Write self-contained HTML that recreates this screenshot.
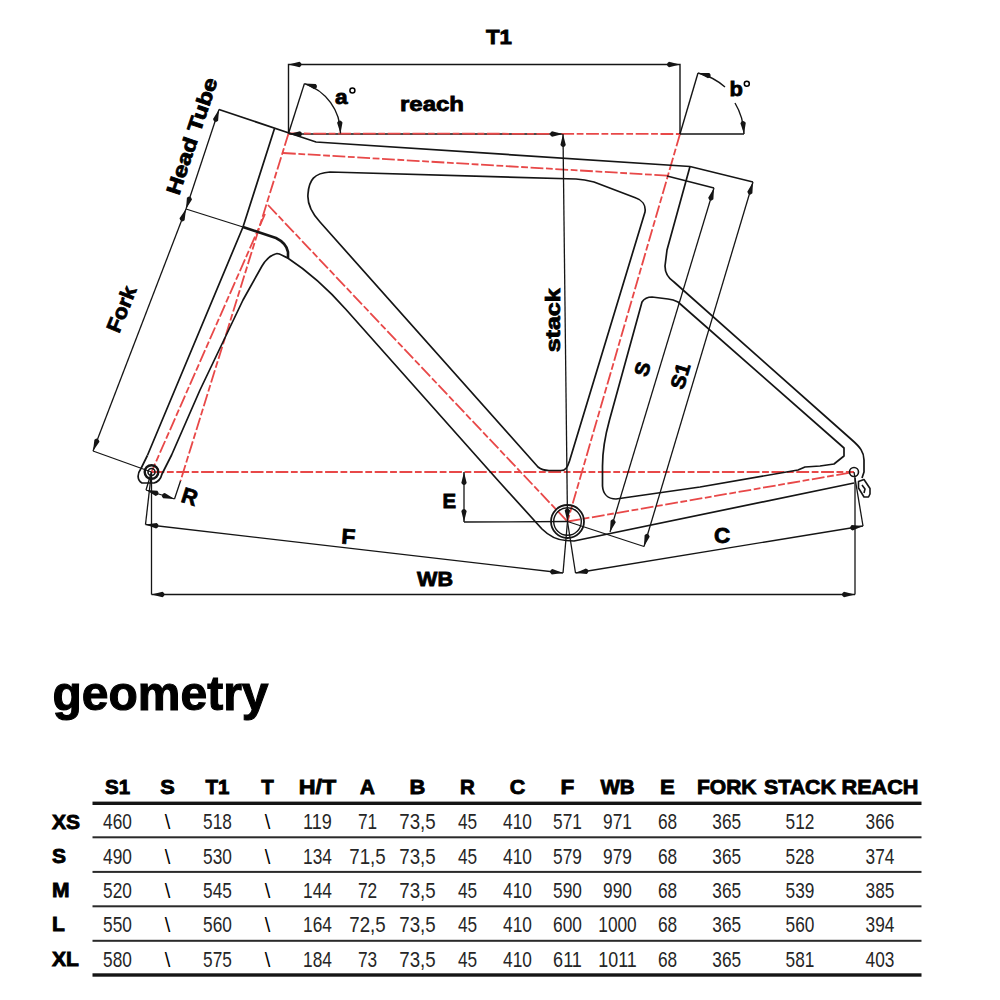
<!DOCTYPE html>
<html><head><meta charset="utf-8"><style>
html,body{margin:0;padding:0;background:#fff;}
body{width:1000px;height:1000px;overflow:hidden;position:relative;}
svg{position:absolute;left:0;top:0;font-family:"Liberation Sans",sans-serif;}
</style></head><body>
<svg width="1000" height="1000" viewBox="0 0 1000 1000">
<g stroke-linecap="butt">
<path d="M289,134 L563,134" stroke="#151515" stroke-width="1.6"/>
<path d="M151.5,472.0 L854.0,472.0" fill="none" stroke="#e84848" stroke-width="1.8" stroke-dasharray="12.8 2.6 6.8 2.6"/>
<path d="M288.5,133.5 L680.0,134.0" fill="none" stroke="#e84848" stroke-width="1.8" stroke-dasharray="12.8 2.6 6.8 2.6"/>
<path d="M288.5,133.5 L180.5,481.0" fill="none" stroke="#e84848" stroke-width="1.8" stroke-dasharray="12.8 2.6 6.8 2.6"/>
<path d="M265.0,214.0 L151.5,472.0" fill="none" stroke="#e84848" stroke-width="1.8" stroke-dasharray="12.8 2.6 6.8 2.6"/>
<path d="M268.0,205.0 L567.5,521.5" fill="none" stroke="#e84848" stroke-width="1.8" stroke-dasharray="12.8 2.6 6.8 2.6"/>
<path d="M283.0,153.0 L667.0,175.6" fill="none" stroke="#e84848" stroke-width="1.8" stroke-dasharray="12.8 2.6 6.8 2.6"/>
<path d="M680.0,134.0 L567.5,521.5" fill="none" stroke="#e84848" stroke-width="1.8" stroke-dasharray="12.8 2.6 6.8 2.6"/>
<path d="M567.5,521.5 L854.0,472.0" fill="none" stroke="#e84848" stroke-width="1.8" stroke-dasharray="12.8 2.6 6.8 2.6"/>
<path d="M274.5,128.5 L243.0,227.0 L147.4,455.5" fill="none" stroke="#151515" stroke-width="1.7" />
<path d="M147.4,455.5 L141,468.5 C137,474 137,480 142,483 L154,483 C158,482 161,478 162,474 L171.6,455 L200,390 L243,300 L262,266 C265,261 270,255 277,253.5 C280,253.5 283,256 288,258" fill="none" stroke="#151515" stroke-width="1.7" stroke-linejoin="round" />
<path d="M243,227 L258,232 L276,238 C282,241 287,246 288,252 L288,258" fill="none" stroke="#151515" stroke-width="2.6" stroke-linejoin="round" />
<path d="M219.0,109.5 L289.0,133.0 L316.0,142.0 L690.0,166.5" fill="none" stroke="#151515" stroke-width="1.7" />
<path d="M287,257.5 C306,270 328,289 346,309.5 L497.6,480 L542,529 C549,536 556,540 566,540.5 L574,541 L854,483" fill="none" stroke="#151515" stroke-width="1.7" stroke-linejoin="round" />
<path d="M330,172 L576,179 C583,179.5 588,180.5 594,182 L636,198 C642,200 646,205 645,212 L569.5,461 C567.5,467 566,470.5 561,470.5 L549,470.5 C544,470.5 541,469.5 538,467 L320,222 C311,212 307,204 308,194 C309,180 314,173 330,172 Z" fill="none" stroke="#151515" stroke-width="1.7" stroke-linejoin="round" />
<path d="M690,166.5 L667,250 L665,266 C665,273 668,278 674,282 L852,440 C860,447 864,452 864,460 L864,472 L862,478" fill="none" stroke="#151515" stroke-width="1.7" stroke-linejoin="round" />
<path d="M652,297 L668,299 C672,299.5 675,300.5 678,302 L844,448 L844,456 L834,464 L820,466 L805,467 L798,470 L700,487 L616,499 C608,499 603,494 602.5,486 L602.5,466 C602.5,452 604.5,438 609.5,420 L642,302 C644,299 647,297 652,297 Z" fill="none" stroke="#151515" stroke-width="1.7" stroke-linejoin="round" />
<circle cx="854" cy="472" r="4.5" fill="none" stroke="#151515" stroke-width="1.6"/>
<path d="M858.5,481.5 L864,479.5 L867,484 L870,488.5 L870,494 L868.5,497 L864,497 L861,492 L858.5,488 Z M862,485 L865,489 L864,493" fill="none" stroke="#151515" stroke-width="1.6" stroke-linejoin="round" />
<circle cx="151.5" cy="472" r="6.8" fill="none" stroke="#151515" stroke-width="2.4"/>
<circle cx="151.5" cy="472" r="3.5" fill="none" stroke="#151515" stroke-width="1.6"/>
<circle cx="567.5" cy="521.5" r="16.5" fill="none" stroke="#151515" stroke-width="1.8"/>
<circle cx="567.5" cy="521.5" r="13.8" fill="none" stroke="#151515" stroke-width="1.4"/>
<path d="M288.5,133.5 L288.5,64.5 L680.0,64.5 L680.0,134.0" fill="none" stroke="#151515" stroke-width="1.4" />
<path d="M288.5,64.5 L299.5,67.2 Q302.5,65.0 301.0,64.0 Q302.5,64.0 299.5,61.8 Z" fill="#151515"/>
<path d="M680.0,64.5 L669.0,61.8 Q666.0,64.0 667.5,65.0 Q666.0,65.0 669.0,67.2 Z" fill="#151515"/>
<path d="M289.0,134.0 L300.0,136.7 Q303.0,134.5 301.5,133.5 Q303.0,133.5 300.0,131.3 Z" fill="#151515"/>
<path d="M563.0,134.0 L552.0,131.3 Q549.0,133.5 550.5,134.5 Q549.0,134.5 552.0,136.7 Z" fill="#151515"/>
<path d="M563.0,134.0 L567.5,521.5" fill="none" stroke="#151515" stroke-width="1.3" />
<path d="M563.0,134.0 L560.4,145.0 Q562.6,148.0 563.7,146.5 Q563.7,148.0 565.8,145.0 Z" fill="#151515"/>
<path d="M567.5,521.5 L570.1,510.5 Q567.9,507.5 566.8,509.0 Q566.8,507.5 564.7,510.5 Z" fill="#151515"/>
<path d="M288.5,133.5 L304.4,83.6" fill="none" stroke="#151515" stroke-width="1.4" />
<path d="M304.4,83.6 A52,52 0 0 1 340.5,133.5" fill="none" stroke="#151515" stroke-width="1.4" stroke-linejoin="round" />
<path d="M304.4,83.6 L314.2,89.3 Q317.7,88.1 316.5,86.6 Q318.0,87.0 315.7,84.1 Z" fill="#151515"/>
<path d="M340.5,133.5 L342.5,122.4 Q340.2,119.5 339.2,121.1 Q339.1,119.6 337.1,122.7 Z" fill="#151515"/>
<path d="M680.0,134.0 L698.0,73.0" fill="none" stroke="#151515" stroke-width="1.4" />
<path d="M680.0,134.0 L744.0,134.0" fill="none" stroke="#151515" stroke-width="1.4" />
<path d="M698,73 A64,64 0 0 1 725,87" fill="none" stroke="#151515" stroke-width="1.4" stroke-linejoin="round" />
<path d="M735,103 A64,64 0 0 1 744,134" fill="none" stroke="#151515" stroke-width="1.4" stroke-linejoin="round" />
<path d="M698.0,73.0 L708.0,78.3 Q711.5,76.9 710.3,75.5 Q711.7,75.9 709.3,73.0 Z" fill="#151515"/>
<path d="M744.0,134.0 L745.8,122.8 Q743.4,120.0 742.4,121.6 Q742.3,120.1 740.4,123.3 Z" fill="#151515"/>
<path d="M219.0,109.5 L186.0,209.0" fill="none" stroke="#151515" stroke-width="1.3" />
<path d="M219.0,109.5 L213.0,119.1 Q214.1,122.6 215.6,121.5 Q215.1,123.0 218.1,120.8 Z" fill="#151515"/>
<path d="M186.0,209.0 L192.0,199.4 Q190.9,195.9 189.4,197.0 Q189.9,195.5 186.9,197.7 Z" fill="#151515"/>
<path d="M186.0,209.0 L93.0,451.0" fill="none" stroke="#151515" stroke-width="1.3" />
<path d="M186.0,209.0 L179.5,218.3 Q180.5,221.9 182.0,220.9 Q181.5,222.3 184.6,220.2 Z" fill="#151515"/>
<path d="M93.0,451.0 L99.5,441.7 Q98.5,438.1 97.0,439.1 Q97.5,437.7 94.4,439.8 Z" fill="#151515"/>
<path d="M93.0,451.0 L151.5,472.0" fill="none" stroke="#151515" stroke-width="1.3" />
<path d="M186.0,209.0 L243.0,227.0" fill="none" stroke="#151515" stroke-width="1.3" />
<path d="M180.5,481.0 L174.5,499.0" fill="none" stroke="#151515" stroke-width="1.3" />
<path d="M151.5,472.0 L146.0,490.0" fill="none" stroke="#151515" stroke-width="1.3" />
<path d="M146.0,490.0 L174.5,499.0" fill="none" stroke="#151515" stroke-width="1.3" />
<path d="M146.0,490.0 L155.7,495.9 Q159.2,494.7 158.1,493.2 Q159.5,493.7 157.3,490.7 Z" fill="#151515"/>
<path d="M174.5,499.0 L164.8,493.1 Q161.3,494.3 162.4,495.8 Q161.0,495.3 163.2,498.3 Z" fill="#151515"/>
<path d="M464.0,472.0 L464.0,522.0" fill="none" stroke="#151515" stroke-width="1.3" />
<path d="M464.0,472.0 L461.3,483.0 Q463.5,486.0 464.5,484.5 Q464.5,486.0 466.7,483.0 Z" fill="#151515"/>
<path d="M464.0,522.0 L466.7,511.0 Q464.5,508.0 463.5,509.5 Q463.5,508.0 461.3,511.0 Z" fill="#151515"/>
<path d="M464.0,522.0 L567.5,521.5" fill="none" stroke="#151515" stroke-width="1.3" />
<path d="M151.5,472.0 L145.5,524.5" fill="none" stroke="#151515" stroke-width="1.3" />
<path d="M567.5,521.5 L563.0,573.0" fill="none" stroke="#151515" stroke-width="1.3" />
<path d="M145.5,524.5 L563.0,573.0" fill="none" stroke="#151515" stroke-width="1.3" />
<path d="M145.5,524.5 L156.1,528.5 Q159.3,526.7 158.0,525.4 Q159.5,525.6 156.7,523.1 Z" fill="#151515"/>
<path d="M563.0,573.0 L552.4,569.0 Q549.2,570.8 550.5,572.1 Q549.0,571.9 551.8,574.4 Z" fill="#151515"/>
<path d="M567.5,521.5 L575.5,573.0" fill="none" stroke="#151515" stroke-width="1.3" />
<path d="M854.0,472.0 L863.0,526.0" fill="none" stroke="#151515" stroke-width="1.3" />
<path d="M575.5,573.0 L863.0,526.0" fill="none" stroke="#151515" stroke-width="1.3" />
<path d="M575.5,573.0 L586.8,573.9 Q589.4,571.3 587.7,570.5 Q589.2,570.2 585.9,568.6 Z" fill="#151515"/>
<path d="M863.0,526.0 L851.7,525.1 Q849.1,527.7 850.8,528.5 Q849.3,528.8 852.6,530.4 Z" fill="#151515"/>
<path d="M151.5,472.0 L151.5,594.5" fill="none" stroke="#151515" stroke-width="1.3" />
<path d="M855.0,478.0 L855.0,594.5" fill="none" stroke="#151515" stroke-width="1.3" />
<path d="M151.5,594.5 L855.0,594.5" fill="none" stroke="#151515" stroke-width="1.3" />
<path d="M151.5,594.5 L162.5,597.2 Q165.5,595.0 164.0,594.0 Q165.5,594.0 162.5,591.8 Z" fill="#151515"/>
<path d="M855.0,594.5 L844.0,591.8 Q841.0,594.0 842.5,595.0 Q841.0,595.0 844.0,597.2 Z" fill="#151515"/>
<path d="M667.0,176.0 L714.0,188.0" fill="none" stroke="#151515" stroke-width="1.3" />
<path d="M690.0,166.5 L753.0,182.0" fill="none" stroke="#151515" stroke-width="1.3" />
<path d="M714.0,188.0 L610.0,532.0" fill="none" stroke="#151515" stroke-width="1.3" />
<path d="M714.0,188.0 L708.2,197.7 Q709.4,201.2 710.9,200.1 Q710.5,201.6 713.4,199.3 Z" fill="#151515"/>
<path d="M610.0,532.0 L615.8,522.3 Q614.6,518.8 613.1,519.9 Q613.5,518.4 610.6,520.7 Z" fill="#151515"/>
<path d="M753.0,182.0 L644.0,546.5" fill="none" stroke="#151515" stroke-width="1.3" />
<path d="M753.0,182.0 L747.3,191.8 Q748.5,195.3 749.9,194.1 Q749.5,195.6 752.4,193.3 Z" fill="#151515"/>
<path d="M644.0,546.5 L649.7,536.7 Q648.5,533.2 647.1,534.4 Q647.5,532.9 644.6,535.2 Z" fill="#151515"/>
<path d="M567.5,521.5 L644.0,546.5" fill="none" stroke="#151515" stroke-width="1.3" />
<text x="486" y="44.4" font-size="20" font-weight="bold" text-anchor="start" textLength="26" lengthAdjust="spacingAndGlyphs" fill="#000" stroke="#000" stroke-width="0.8" >T1</text>
<text x="400" y="111" font-size="20" font-weight="bold" text-anchor="start" textLength="64" lengthAdjust="spacingAndGlyphs" fill="#000" stroke="#000" stroke-width="0.8" >reach</text>
<text x="335" y="103.5" font-size="20" font-weight="bold" text-anchor="start" textLength="12.6" lengthAdjust="spacingAndGlyphs" fill="#000" stroke="#000" stroke-width="0.8" >a</text>
<circle cx="352.4" cy="90.6" r="2.5" fill="none" stroke="#000" stroke-width="1.5"/>
<text x="729.4" y="95.6" font-size="20.5" font-weight="bold" text-anchor="start" textLength="13.4" lengthAdjust="spacingAndGlyphs" fill="#000" stroke="#000" stroke-width="0.8" >b</text>
<circle cx="746.8" cy="83.8" r="2.5" fill="none" stroke="#000" stroke-width="1.5"/>
<text x="442.4" y="508" font-size="20" font-weight="bold" text-anchor="start" textLength="13.6" lengthAdjust="spacingAndGlyphs" fill="#000" stroke="#000" stroke-width="0.8" >E</text>
<text x="341" y="543.6" font-size="21.5" font-weight="bold" text-anchor="start" textLength="13.8" lengthAdjust="spacingAndGlyphs" transform="rotate(4 341 543.6)" fill="#000" stroke="#000" stroke-width="0.8" >F</text>
<text x="417" y="586" font-size="20" font-weight="bold" text-anchor="start" textLength="36" lengthAdjust="spacingAndGlyphs" fill="#000" stroke="#000" stroke-width="0.8" >WB</text>
<text x="714" y="543" font-size="22" font-weight="bold" text-anchor="start" textLength="16.2" lengthAdjust="spacingAndGlyphs" fill="#000" stroke="#000" stroke-width="0.8" >C</text>
<text x="180" y="501.6" font-size="22" font-weight="bold" text-anchor="start" textLength="15.6" lengthAdjust="spacingAndGlyphs" transform="rotate(17.5 180 501.6)" fill="#000" stroke="#000" stroke-width="0.8" >R</text>
<text x="559.6" y="352.3" font-size="20" font-weight="bold" text-anchor="start" textLength="64" lengthAdjust="spacingAndGlyphs" transform="rotate(-90 559.6 352.3)" fill="#000" stroke="#000" stroke-width="0.8" >stack</text>
<text x="649" y="371" font-size="20" font-weight="bold" text-anchor="middle" textLength="14" lengthAdjust="spacingAndGlyphs" transform="rotate(-73.3 649 371)" fill="#000" stroke="#000" stroke-width="0.8" >S</text>
<text x="687" y="378" font-size="20" font-weight="bold" text-anchor="middle" textLength="26" lengthAdjust="spacingAndGlyphs" transform="rotate(-73.3 687 378)" fill="#000" stroke="#000" stroke-width="0.8" >S1</text>
<text x="179" y="196" font-size="20" font-weight="bold" text-anchor="start" textLength="122" lengthAdjust="spacingAndGlyphs" transform="rotate(-71.4 179 196)" fill="#000" stroke="#000" stroke-width="0.8" >Head Tube</text>
<text x="119" y="334" font-size="20.5" font-weight="bold" text-anchor="start" textLength="48" lengthAdjust="spacingAndGlyphs" transform="rotate(-68 119 334)" fill="#000" stroke="#000" stroke-width="0.8" >Fork</text>
</g>
<text x="52.5" y="710" font-size="49" font-weight="bold" textLength="216" lengthAdjust="spacingAndGlyphs" stroke="#000" stroke-width="1.1">geometry</text>
<text x="117.5" y="793.8" font-size="20.5" font-weight="bold" text-anchor="middle" stroke="#000" stroke-width="0.85">S1</text>
<text x="167.5" y="793.8" font-size="20.5" font-weight="bold" text-anchor="middle" textLength="14.5" lengthAdjust="spacingAndGlyphs" stroke="#000" stroke-width="0.85">S</text>
<text x="217.5" y="793.8" font-size="20.5" font-weight="bold" text-anchor="middle" stroke="#000" stroke-width="0.85">T1</text>
<text x="267.5" y="793.8" font-size="20.5" font-weight="bold" text-anchor="middle" stroke="#000" stroke-width="0.85">T</text>
<text x="317.5" y="793.8" font-size="20.5" font-weight="bold" text-anchor="middle" textLength="37.5" lengthAdjust="spacingAndGlyphs" stroke="#000" stroke-width="0.85">H/T</text>
<text x="367.5" y="793.8" font-size="20.5" font-weight="bold" text-anchor="middle" stroke="#000" stroke-width="0.85">A</text>
<text x="417.5" y="793.8" font-size="20.5" font-weight="bold" text-anchor="middle" textLength="15.8" lengthAdjust="spacingAndGlyphs" stroke="#000" stroke-width="0.85">B</text>
<text x="467.5" y="793.8" font-size="20.5" font-weight="bold" text-anchor="middle" stroke="#000" stroke-width="0.85">R</text>
<text x="517.5" y="793.8" font-size="20.5" font-weight="bold" text-anchor="middle" textLength="15.5" lengthAdjust="spacingAndGlyphs" stroke="#000" stroke-width="0.85">C</text>
<text x="567.5" y="793.8" font-size="20.5" font-weight="bold" text-anchor="middle" textLength="13.8" lengthAdjust="spacingAndGlyphs" stroke="#000" stroke-width="0.85">F</text>
<text x="617.5" y="793.8" font-size="20.5" font-weight="bold" text-anchor="middle" stroke="#000" stroke-width="0.85">WB</text>
<text x="667.5" y="793.8" font-size="20.5" font-weight="bold" text-anchor="middle" textLength="14.8" lengthAdjust="spacingAndGlyphs" stroke="#000" stroke-width="0.85">E</text>
<text x="726.75" y="793.8" font-size="20.5" font-weight="bold" text-anchor="middle" textLength="59.6" lengthAdjust="spacingAndGlyphs" stroke="#000" stroke-width="0.85">FORK</text>
<text x="800.0" y="793.8" font-size="20.5" font-weight="bold" text-anchor="middle" textLength="71.8" lengthAdjust="spacingAndGlyphs" stroke="#000" stroke-width="0.85">STACK</text>
<text x="880.0" y="793.8" font-size="20.5" font-weight="bold" text-anchor="middle" textLength="77" lengthAdjust="spacingAndGlyphs" stroke="#000" stroke-width="0.85">REACH</text>
<text x="52" y="828.5" font-size="21" font-weight="bold" text-anchor="start" stroke="#000" stroke-width="0.9">XS</text>
<text x="117.5" y="829.3" font-size="21.4" font-weight="normal" text-anchor="middle" textLength="28.8" lengthAdjust="spacingAndGlyphs" fill="#262626">460</text>
<text x="167.5" y="829.3" font-size="20" font-weight="normal" text-anchor="middle" transform="scale(1,1)">\</text>
<text x="217.5" y="829.3" font-size="21.4" font-weight="normal" text-anchor="middle" textLength="28.8" lengthAdjust="spacingAndGlyphs" fill="#262626">518</text>
<text x="267.5" y="829.3" font-size="20" font-weight="normal" text-anchor="middle" transform="scale(1,1)">\</text>
<text x="317.5" y="829.3" font-size="21.4" font-weight="normal" text-anchor="middle" textLength="28.8" lengthAdjust="spacingAndGlyphs" fill="#262626">119</text>
<text x="367.5" y="829.3" font-size="21.4" font-weight="normal" text-anchor="middle" textLength="19.2" lengthAdjust="spacingAndGlyphs" fill="#262626">71</text>
<text x="417.5" y="829.3" font-size="21.4" font-weight="normal" text-anchor="middle" textLength="36.4" lengthAdjust="spacingAndGlyphs" fill="#262626">73,5</text>
<text x="467.5" y="829.3" font-size="21.4" font-weight="normal" text-anchor="middle" textLength="19.2" lengthAdjust="spacingAndGlyphs" fill="#262626">45</text>
<text x="517.5" y="829.3" font-size="21.4" font-weight="normal" text-anchor="middle" textLength="28.8" lengthAdjust="spacingAndGlyphs" fill="#262626">410</text>
<text x="567.5" y="829.3" font-size="21.4" font-weight="normal" text-anchor="middle" textLength="28.8" lengthAdjust="spacingAndGlyphs" fill="#262626">571</text>
<text x="617.5" y="829.3" font-size="21.4" font-weight="normal" text-anchor="middle" textLength="28.8" lengthAdjust="spacingAndGlyphs" fill="#262626">971</text>
<text x="667.5" y="829.3" font-size="21.4" font-weight="normal" text-anchor="middle" textLength="19.2" lengthAdjust="spacingAndGlyphs" fill="#262626">68</text>
<text x="726.75" y="829.3" font-size="21.4" font-weight="normal" text-anchor="middle" textLength="28.8" lengthAdjust="spacingAndGlyphs" fill="#262626">365</text>
<text x="800.0" y="829.3" font-size="21.4" font-weight="normal" text-anchor="middle" textLength="28.8" lengthAdjust="spacingAndGlyphs" fill="#262626">512</text>
<text x="880.0" y="829.3" font-size="21.4" font-weight="normal" text-anchor="middle" textLength="28.8" lengthAdjust="spacingAndGlyphs" fill="#262626">366</text>
<text x="52" y="862.8000000000001" font-size="21" font-weight="bold" text-anchor="start" stroke="#000" stroke-width="0.9">S</text>
<text x="117.5" y="863.6" font-size="21.4" font-weight="normal" text-anchor="middle" textLength="28.8" lengthAdjust="spacingAndGlyphs" fill="#262626">490</text>
<text x="167.5" y="863.6" font-size="20" font-weight="normal" text-anchor="middle" transform="scale(1,1)">\</text>
<text x="217.5" y="863.6" font-size="21.4" font-weight="normal" text-anchor="middle" textLength="28.8" lengthAdjust="spacingAndGlyphs" fill="#262626">530</text>
<text x="267.5" y="863.6" font-size="20" font-weight="normal" text-anchor="middle" transform="scale(1,1)">\</text>
<text x="317.5" y="863.6" font-size="21.4" font-weight="normal" text-anchor="middle" textLength="28.8" lengthAdjust="spacingAndGlyphs" fill="#262626">134</text>
<text x="367.5" y="863.6" font-size="21.4" font-weight="normal" text-anchor="middle" textLength="36.4" lengthAdjust="spacingAndGlyphs" fill="#262626">71,5</text>
<text x="417.5" y="863.6" font-size="21.4" font-weight="normal" text-anchor="middle" textLength="36.4" lengthAdjust="spacingAndGlyphs" fill="#262626">73,5</text>
<text x="467.5" y="863.6" font-size="21.4" font-weight="normal" text-anchor="middle" textLength="19.2" lengthAdjust="spacingAndGlyphs" fill="#262626">45</text>
<text x="517.5" y="863.6" font-size="21.4" font-weight="normal" text-anchor="middle" textLength="28.8" lengthAdjust="spacingAndGlyphs" fill="#262626">410</text>
<text x="567.5" y="863.6" font-size="21.4" font-weight="normal" text-anchor="middle" textLength="28.8" lengthAdjust="spacingAndGlyphs" fill="#262626">579</text>
<text x="617.5" y="863.6" font-size="21.4" font-weight="normal" text-anchor="middle" textLength="28.8" lengthAdjust="spacingAndGlyphs" fill="#262626">979</text>
<text x="667.5" y="863.6" font-size="21.4" font-weight="normal" text-anchor="middle" textLength="19.2" lengthAdjust="spacingAndGlyphs" fill="#262626">68</text>
<text x="726.75" y="863.6" font-size="21.4" font-weight="normal" text-anchor="middle" textLength="28.8" lengthAdjust="spacingAndGlyphs" fill="#262626">365</text>
<text x="800.0" y="863.6" font-size="21.4" font-weight="normal" text-anchor="middle" textLength="28.8" lengthAdjust="spacingAndGlyphs" fill="#262626">528</text>
<text x="880.0" y="863.6" font-size="21.4" font-weight="normal" text-anchor="middle" textLength="28.8" lengthAdjust="spacingAndGlyphs" fill="#262626">374</text>
<text x="52" y="897.1" font-size="21" font-weight="bold" text-anchor="start" stroke="#000" stroke-width="0.9">M</text>
<text x="117.5" y="897.9" font-size="21.4" font-weight="normal" text-anchor="middle" textLength="28.8" lengthAdjust="spacingAndGlyphs" fill="#262626">520</text>
<text x="167.5" y="897.9" font-size="20" font-weight="normal" text-anchor="middle" transform="scale(1,1)">\</text>
<text x="217.5" y="897.9" font-size="21.4" font-weight="normal" text-anchor="middle" textLength="28.8" lengthAdjust="spacingAndGlyphs" fill="#262626">545</text>
<text x="267.5" y="897.9" font-size="20" font-weight="normal" text-anchor="middle" transform="scale(1,1)">\</text>
<text x="317.5" y="897.9" font-size="21.4" font-weight="normal" text-anchor="middle" textLength="28.8" lengthAdjust="spacingAndGlyphs" fill="#262626">144</text>
<text x="367.5" y="897.9" font-size="21.4" font-weight="normal" text-anchor="middle" textLength="19.2" lengthAdjust="spacingAndGlyphs" fill="#262626">72</text>
<text x="417.5" y="897.9" font-size="21.4" font-weight="normal" text-anchor="middle" textLength="36.4" lengthAdjust="spacingAndGlyphs" fill="#262626">73,5</text>
<text x="467.5" y="897.9" font-size="21.4" font-weight="normal" text-anchor="middle" textLength="19.2" lengthAdjust="spacingAndGlyphs" fill="#262626">45</text>
<text x="517.5" y="897.9" font-size="21.4" font-weight="normal" text-anchor="middle" textLength="28.8" lengthAdjust="spacingAndGlyphs" fill="#262626">410</text>
<text x="567.5" y="897.9" font-size="21.4" font-weight="normal" text-anchor="middle" textLength="28.8" lengthAdjust="spacingAndGlyphs" fill="#262626">590</text>
<text x="617.5" y="897.9" font-size="21.4" font-weight="normal" text-anchor="middle" textLength="28.8" lengthAdjust="spacingAndGlyphs" fill="#262626">990</text>
<text x="667.5" y="897.9" font-size="21.4" font-weight="normal" text-anchor="middle" textLength="19.2" lengthAdjust="spacingAndGlyphs" fill="#262626">68</text>
<text x="726.75" y="897.9" font-size="21.4" font-weight="normal" text-anchor="middle" textLength="28.8" lengthAdjust="spacingAndGlyphs" fill="#262626">365</text>
<text x="800.0" y="897.9" font-size="21.4" font-weight="normal" text-anchor="middle" textLength="28.8" lengthAdjust="spacingAndGlyphs" fill="#262626">539</text>
<text x="880.0" y="897.9" font-size="21.4" font-weight="normal" text-anchor="middle" textLength="28.8" lengthAdjust="spacingAndGlyphs" fill="#262626">385</text>
<text x="52" y="931.4000000000001" font-size="21" font-weight="bold" text-anchor="start" stroke="#000" stroke-width="0.9">L</text>
<text x="117.5" y="932.2" font-size="21.4" font-weight="normal" text-anchor="middle" textLength="28.8" lengthAdjust="spacingAndGlyphs" fill="#262626">550</text>
<text x="167.5" y="932.2" font-size="20" font-weight="normal" text-anchor="middle" transform="scale(1,1)">\</text>
<text x="217.5" y="932.2" font-size="21.4" font-weight="normal" text-anchor="middle" textLength="28.8" lengthAdjust="spacingAndGlyphs" fill="#262626">560</text>
<text x="267.5" y="932.2" font-size="20" font-weight="normal" text-anchor="middle" transform="scale(1,1)">\</text>
<text x="317.5" y="932.2" font-size="21.4" font-weight="normal" text-anchor="middle" textLength="28.8" lengthAdjust="spacingAndGlyphs" fill="#262626">164</text>
<text x="367.5" y="932.2" font-size="21.4" font-weight="normal" text-anchor="middle" textLength="36.4" lengthAdjust="spacingAndGlyphs" fill="#262626">72,5</text>
<text x="417.5" y="932.2" font-size="21.4" font-weight="normal" text-anchor="middle" textLength="36.4" lengthAdjust="spacingAndGlyphs" fill="#262626">73,5</text>
<text x="467.5" y="932.2" font-size="21.4" font-weight="normal" text-anchor="middle" textLength="19.2" lengthAdjust="spacingAndGlyphs" fill="#262626">45</text>
<text x="517.5" y="932.2" font-size="21.4" font-weight="normal" text-anchor="middle" textLength="28.8" lengthAdjust="spacingAndGlyphs" fill="#262626">410</text>
<text x="567.5" y="932.2" font-size="21.4" font-weight="normal" text-anchor="middle" textLength="28.8" lengthAdjust="spacingAndGlyphs" fill="#262626">600</text>
<text x="617.5" y="932.2" font-size="21.4" font-weight="normal" text-anchor="middle" textLength="38.4" lengthAdjust="spacingAndGlyphs" fill="#262626">1000</text>
<text x="667.5" y="932.2" font-size="21.4" font-weight="normal" text-anchor="middle" textLength="19.2" lengthAdjust="spacingAndGlyphs" fill="#262626">68</text>
<text x="726.75" y="932.2" font-size="21.4" font-weight="normal" text-anchor="middle" textLength="28.8" lengthAdjust="spacingAndGlyphs" fill="#262626">365</text>
<text x="800.0" y="932.2" font-size="21.4" font-weight="normal" text-anchor="middle" textLength="28.8" lengthAdjust="spacingAndGlyphs" fill="#262626">560</text>
<text x="880.0" y="932.2" font-size="21.4" font-weight="normal" text-anchor="middle" textLength="28.8" lengthAdjust="spacingAndGlyphs" fill="#262626">394</text>
<text x="52" y="965.7" font-size="21" font-weight="bold" text-anchor="start" stroke="#000" stroke-width="0.9">XL</text>
<text x="117.5" y="966.5" font-size="21.4" font-weight="normal" text-anchor="middle" textLength="28.8" lengthAdjust="spacingAndGlyphs" fill="#262626">580</text>
<text x="167.5" y="966.5" font-size="20" font-weight="normal" text-anchor="middle" transform="scale(1,1)">\</text>
<text x="217.5" y="966.5" font-size="21.4" font-weight="normal" text-anchor="middle" textLength="28.8" lengthAdjust="spacingAndGlyphs" fill="#262626">575</text>
<text x="267.5" y="966.5" font-size="20" font-weight="normal" text-anchor="middle" transform="scale(1,1)">\</text>
<text x="317.5" y="966.5" font-size="21.4" font-weight="normal" text-anchor="middle" textLength="28.8" lengthAdjust="spacingAndGlyphs" fill="#262626">184</text>
<text x="367.5" y="966.5" font-size="21.4" font-weight="normal" text-anchor="middle" textLength="19.2" lengthAdjust="spacingAndGlyphs" fill="#262626">73</text>
<text x="417.5" y="966.5" font-size="21.4" font-weight="normal" text-anchor="middle" textLength="36.4" lengthAdjust="spacingAndGlyphs" fill="#262626">73,5</text>
<text x="467.5" y="966.5" font-size="21.4" font-weight="normal" text-anchor="middle" textLength="19.2" lengthAdjust="spacingAndGlyphs" fill="#262626">45</text>
<text x="517.5" y="966.5" font-size="21.4" font-weight="normal" text-anchor="middle" textLength="28.8" lengthAdjust="spacingAndGlyphs" fill="#262626">410</text>
<text x="567.5" y="966.5" font-size="21.4" font-weight="normal" text-anchor="middle" textLength="28.8" lengthAdjust="spacingAndGlyphs" fill="#262626">611</text>
<text x="617.5" y="966.5" font-size="21.4" font-weight="normal" text-anchor="middle" textLength="38.4" lengthAdjust="spacingAndGlyphs" fill="#262626">1011</text>
<text x="667.5" y="966.5" font-size="21.4" font-weight="normal" text-anchor="middle" textLength="19.2" lengthAdjust="spacingAndGlyphs" fill="#262626">68</text>
<text x="726.75" y="966.5" font-size="21.4" font-weight="normal" text-anchor="middle" textLength="28.8" lengthAdjust="spacingAndGlyphs" fill="#262626">365</text>
<text x="800.0" y="966.5" font-size="21.4" font-weight="normal" text-anchor="middle" textLength="28.8" lengthAdjust="spacingAndGlyphs" fill="#262626">581</text>
<text x="880.0" y="966.5" font-size="21.4" font-weight="normal" text-anchor="middle" textLength="28.8" lengthAdjust="spacingAndGlyphs" fill="#262626">403</text>
<rect x="92.5" y="801.6" width="829" height="3.4" fill="#151515"/>
<rect x="92.5" y="836.3" width="829" height="2" fill="#2a2a2a"/>
<rect x="92.5" y="870.9" width="829" height="2" fill="#2a2a2a"/>
<rect x="92.5" y="905.3" width="829" height="2" fill="#2a2a2a"/>
<rect x="92.5" y="939.8" width="829" height="2" fill="#2a2a2a"/>
<rect x="92.5" y="973.3" width="829" height="3.4" fill="#151515"/>
</svg>
</body></html>
